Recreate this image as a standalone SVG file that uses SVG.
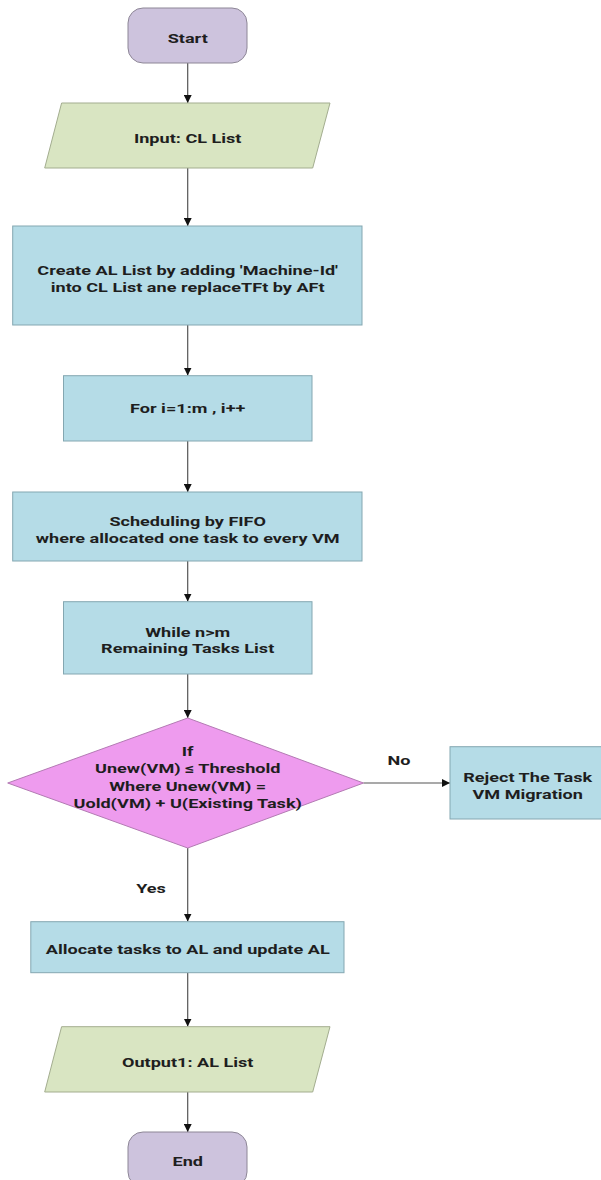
<svg xmlns="http://www.w3.org/2000/svg" width="601" height="1180" viewBox="0 0 601 1180">
<defs>
<style>
.t{font-family:Roboto,"Liberation Sans",Arial,sans-serif;font-weight:bold;font-size:13.6px;fill:#1e1e1e;text-anchor:middle}
.term{fill:#cdc3dd;stroke:#8d8696;stroke-width:1}
.io{fill:#d9e5c2;stroke:#a3ad8f;stroke-width:1}
.proc{fill:#b5dce7;stroke:#84a7b1;stroke-width:1}
.dec{fill:#ee9bee;stroke:#b37ab3;stroke-width:1}
.c{stroke:#555;stroke-width:1.2;fill:none;marker-end:url(#ah)}
</style>
<marker id="ah" viewBox="0 0 10 10" refX="10" refY="5" markerWidth="8" markerHeight="8" markerUnits="userSpaceOnUse" orient="auto">
<path d="M0,0 L10,5 L0,10 z" fill="#111"/>
</marker>
</defs>
<rect width="601" height="1180" fill="#fff"/>
<g id="connectors">
<line class="c" x1="187.7" y1="63" x2="187.7" y2="103"/>
<line class="c" x1="187.7" y1="168" x2="187.7" y2="226"/>
<line class="c" x1="187.7" y1="325" x2="187.7" y2="375.5"/>
<line class="c" x1="187.7" y1="441" x2="187.7" y2="492"/>
<line class="c" x1="187.7" y1="561" x2="187.7" y2="601.5"/>
<line class="c" x1="187.7" y1="674" x2="187.7" y2="718"/>
<line class="c" x1="363.5" y1="783" x2="450" y2="783"/>
<line class="c" x1="187.7" y1="848" x2="187.7" y2="921.5"/>
<line class="c" x1="187.7" y1="972.7" x2="187.7" y2="1026.5"/>
<line class="c" x1="187.7" y1="1092" x2="187.7" y2="1132"/>
<text class="t" transform="translate(399 765) scale(1.33 1)">No</text>
<text class="t" transform="translate(151 893) scale(1.33 1)">Yes</text>
</g>
<g id="start">
<rect class="term" x="128" y="8" width="119" height="55" rx="15"/>
<text class="t" transform="translate(187.7 43) scale(1.33 1)">Start</text>
</g>
<g id="input">
<polygon class="io" points="61.6,103 330,103 312.7,168 44.7,168"/>
<text class="t" transform="translate(187.7 143) scale(1.33 1)">Input: CL List</text>
</g>
<g id="create">
<rect class="proc" x="12.7" y="226" width="349.3" height="99"/>
<text class="t" transform="translate(187.7 275) scale(1.33 1)">Create AL List by adding 'Machine-Id'</text>
<text class="t" transform="translate(187.7 292) scale(1.33 1)">into CL List ane replaceTFt by AFt</text>
</g>
<g id="for">
<rect class="proc" x="63.5" y="375.7" width="248.5" height="65.3"/>
<text class="t" transform="translate(187.7 413) scale(1.33 1)">For i=1:m , i++</text>
</g>
<g id="sched">
<rect class="proc" x="12.7" y="492" width="349.3" height="69"/>
<text class="t" transform="translate(187.7 525.5) scale(1.33 1)">Scheduling by FIFO</text>
<text class="t" transform="translate(187.7 542.5) scale(1.33 1)">where allocated one task to every VM</text>
</g>
<g id="while">
<rect class="proc" x="63.5" y="601.7" width="248.5" height="72.3"/>
<text class="t" transform="translate(187.7 636.5) scale(1.33 1)">While n&gt;m</text>
<text class="t" transform="translate(187.7 653) scale(1.33 1)">Remaining Tasks List</text>
</g>
<g id="decision">
<polygon class="dec" points="187.7,718 363.5,783 187.7,848 7.7,783"/>
<text class="t" transform="translate(187.7 756) scale(1.33 1)">If</text>
<text class="t" transform="translate(187.7 773) scale(1.33 1)">Unew(VM) ≤ Threshold</text>
<text class="t" transform="translate(187.7 790.5) scale(1.33 1)">Where Unew(VM) =</text>
<text class="t" transform="translate(187.7 807.5) scale(1.33 1)">Uold(VM) + U(Existing Task)</text>
</g>
<g id="reject">
<rect class="proc" x="450" y="746.7" width="152" height="72.3"/>
<text class="t" transform="translate(527.7 782) scale(1.33 1)">Reject The Task</text>
<text class="t" transform="translate(527.7 799) scale(1.33 1)">VM Migration</text>
</g>
<g id="allocate">
<rect class="proc" x="30.8" y="921.7" width="313.2" height="51"/>
<text class="t" transform="translate(187.7 954) scale(1.33 1)">Allocate tasks to AL and update AL</text>
</g>
<g id="output">
<polygon class="io" points="61.6,1026.7 330,1026.7 312.7,1092 44.7,1092"/>
<text class="t" transform="translate(187.7 1067) scale(1.33 1)">Output1: AL List</text>
</g>
<g id="end">
<rect class="term" x="128" y="1132" width="119" height="55" rx="15"/>
<text class="t" transform="translate(187.7 1166) scale(1.33 1)">End</text>
</g>
</svg>
